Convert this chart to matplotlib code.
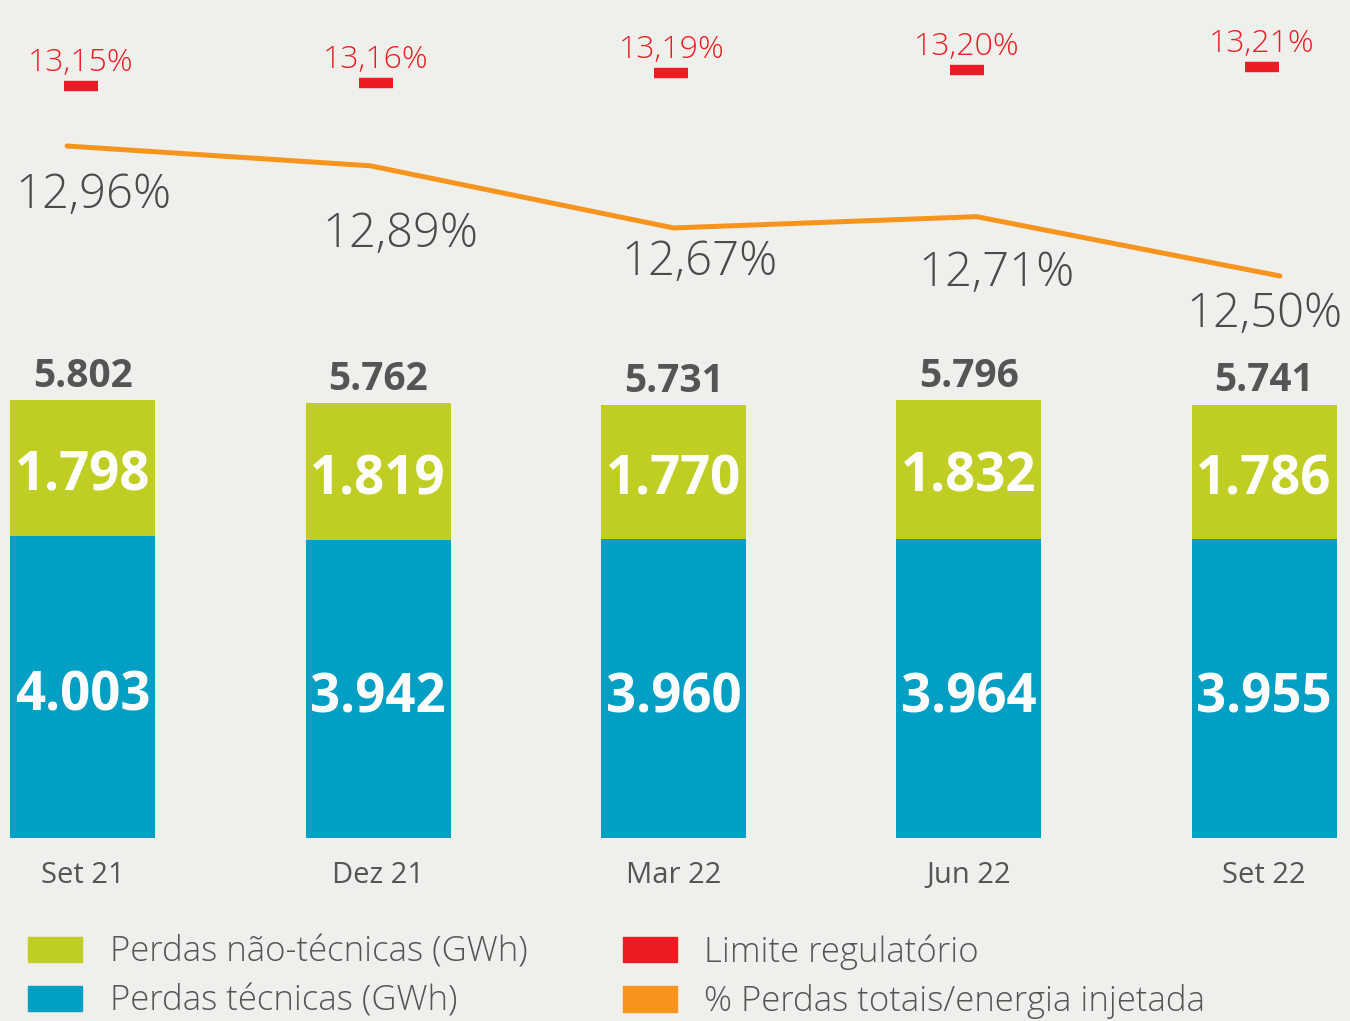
import numpy as np
import matplotlib
matplotlib.use("Agg")
import matplotlib.pyplot as plt
from matplotlib.patches import Patch

# dados
periods = ["Set 21", "Dez 21", "Mar 22", "Jun 22", "Set 22"]
tecnicas = [4003, 3942, 3960, 3964, 3955]
nao_tecnicas = [1798, 1819, 1770, 1832, 1786]
totais = [5802, 5762, 5731, 5796, 5741]
perdas_pct = [12.96, 12.89, 12.67, 12.71, 12.50]
limite_pct = [13.15, 13.16, 13.19, 13.20, 13.21]

# estilo
bg = "#eff0eb"
green = "#c0cd22"
blue = "#009fc3"
red = "#ed1c24"
orange = "#f7941d"
gray = "#555555"
plt.rcParams["font.family"] = ["Open Sans", "DejaVu Sans"]

def br(v, dec=0):
    if dec:
        return f"{v:.{dec}f}".replace(".", ",") + "%"
    return f"{v:,}".replace(",", ".")

fig = plt.figure(figsize=(13.5, 10.21), dpi=100)
fig.patch.set_facecolor(bg)

# barras
ax = fig.add_axes([0, 0, 1, 1])
ax.set_facecolor("none")
x = np.arange(len(periods))
ax.set_xlim(-0.281, 4.291)
ax.set_ylim(-183 / 0.0755, 838 / 0.0755)
ax.bar(x, tecnicas, width=0.491, color=blue)
ax.bar(x, nao_tecnicas, width=0.491, bottom=tecnicas, color=green)
for i in range(len(x)):
    ax.annotate(br(tecnicas[i]), (x[i], tecnicas[i] / 2), xytext=(0, -7),
                textcoords="offset points", ha="center", va="center",
                color="white", fontsize=38, fontweight="bold")
    ax.annotate(br(nao_tecnicas[i]), (x[i], tecnicas[i] + nao_tecnicas[i] / 2),
                xytext=(0, -6), textcoords="offset points", ha="center",
                va="center", color="white", fontsize=38, fontweight="bold")
    ax.annotate(br(totais[i]), (x[i], tecnicas[i] + nao_tecnicas[i]),
                xytext=(0, 3), textcoords="offset points", ha="center",
                va="bottom", color=gray, fontsize=28, fontweight="bold")
    ax.annotate(periods[i], (x[i], 0), xytext=(0, -27), textcoords="offset points",
                ha="center", va="center", color=gray, fontsize=21)
ax.axis("off")

# limite regulatorio
axr = fig.add_axes([0, 0, 1, 1])
axr.set_facecolor("none")
axr.set_xlim(-0.281, 4.291)
axr.set_ylim(13.182 - 945 / 321, 13.182 + 76 / 321)
axr.plot(x - 0.007, limite_pct, linestyle="none", marker="_", markersize=25,
         markeredgewidth=7.5, color=red)
for i in range(len(x)):
    axr.annotate(br(limite_pct[i], 2), (x[i] - 0.007, limite_pct[i]), xytext=(0, 11),
                 textcoords="offset points", ha="center", va="baseline",
                 color=red, fontsize=23, fontweight="light")
axr.axis("off")

# linha % perdas
axl = fig.add_axes([0, 0, 1, 1])
axl.set_facecolor("none")
axl.set_xlim(-0.221, 4.231)
axl.set_ylim(12.96 - 875 / 282.6, 12.96 + 146 / 282.6)
axl.plot(x, perdas_pct, color=orange, lw=3.6, solid_capstyle="round",
         solid_joinstyle="round")
lbl_dx = [19, 22, 19, 14, -11]
lbl_dy = [-36, -50, -25, -41, -28]
for i in range(len(x)):
    axl.annotate(br(perdas_pct[i], 2), (x[i], perdas_pct[i]),
                 xytext=(lbl_dx[i], lbl_dy[i]), textcoords="offset points",
                 ha="center", va="center", color="#4a4a4a", fontsize=34,
                 fontweight="light")
axl.axis("off")

# legenda
handles = [Patch(color=green), Patch(color=blue), Patch(color=red), Patch(color=orange)]
labels = ["Perdas não-técnicas (GWh)", "Perdas técnicas (GWh)",
          "Limite regulatório", "% Perdas totais/energia injetada"]
leg = fig.legend(handles, labels, ncol=2, loc="upper left",
                 bbox_to_anchor=(28 / 1350, 1 - 934 / 1021), frameon=False,
                 fontsize=25, handlelength=1.55, handleheight=0.74,
                 handletextpad=0.8, columnspacing=2.75, labelspacing=0.42,
                 borderpad=0, borderaxespad=0)
for t in leg.get_texts():
    t.set_color(gray)
    t.set_fontweight("light")

fig.savefig("out.png", dpi=100, facecolor=bg)
